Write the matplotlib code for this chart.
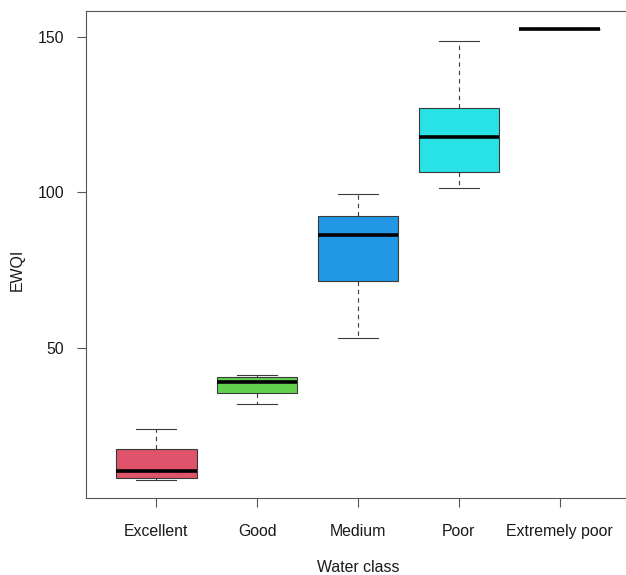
import matplotlib
matplotlib.use("Agg")
import matplotlib.pyplot as plt

# Box statistics of EWQI per water class
categories = ["Excellent", "Good", "Medium", "Poor", "Extremely poor"]
whisker_low = [7.5, 31.9, 53.2, 101.2, 152.4]
q1 = [8.2, 35.3, 71.5, 106.5, 152.4]
median = [10.4, 38.9, 86.3, 117.8, 152.4]
q3 = [17.4, 40.5, 92.3, 126.9, 152.4]
whisker_high = [23.8, 41.2, 99.5, 148.5, 152.4]
colors = ["#DF536B", "#61D04F", "#2297E6", "#28E2E5", "#CD0BBC"]
y_ticks = [50, 100, 150]

plt.rcParams["font.family"] = ["Liberation Sans", "DejaVu Sans"]

fig = plt.figure(figsize=(6.26, 5.75), dpi=100)
ax = fig.add_axes([85.5 / 626, 77 / 575, 545 / 626, 487 / 575])

stats = []
for i, name in enumerate(categories):
    stats.append(dict(label=name, whislo=whisker_low[i], q1=q1[i], med=median[i],
                      q3=q3[i], whishi=whisker_high[i], fliers=[]))

edge = "#3a3a3a"
bp = ax.bxp(stats, positions=range(1, len(categories) + 1), widths=0.8,
            patch_artist=True, showfliers=False,
            boxprops=dict(edgecolor=edge, linewidth=0.8),
            medianprops=dict(color="black", linewidth=2.6, solid_capstyle="butt"),
            whiskerprops=dict(color=edge, linewidth=0.8, linestyle=(0, (4, 3.5))),
            capprops=dict(color=edge, linewidth=0.8), capwidths=0.4)
for patch, c in zip(bp["boxes"], colors):
    patch.set_facecolor(c)

ax.set_xlim(0.3, 5.7)
ax.set_ylim(1.7, 158.2)
ax.set_yticks(y_ticks)
ax.set_yticklabels([str(v) for v in y_ticks])
ax.set_xticks(range(1, len(categories) + 1))
ax.set_xticklabels(categories)

for s in ax.spines.values():
    s.set_color("#555555")
    s.set_linewidth(0.8)

ax.tick_params(axis="both", direction="out", length=6.5, width=0.8,
               color="#555555", labelsize=11.4, labelcolor="#1a1a1a")
ax.tick_params(axis="x", pad=12)
ax.tick_params(axis="y", pad=9)

fig.text(358 / 626, 1 - 567 / 575, "Water class", ha="center", va="center",
         fontsize=11.4, color="#1a1a1a")
fig.text(17 / 626, 1 - 270 / 575, "EWQI", ha="center", va="center",
         rotation=90, fontsize=11.4, color="#1a1a1a")

fig.savefig("out.png", dpi=100)
